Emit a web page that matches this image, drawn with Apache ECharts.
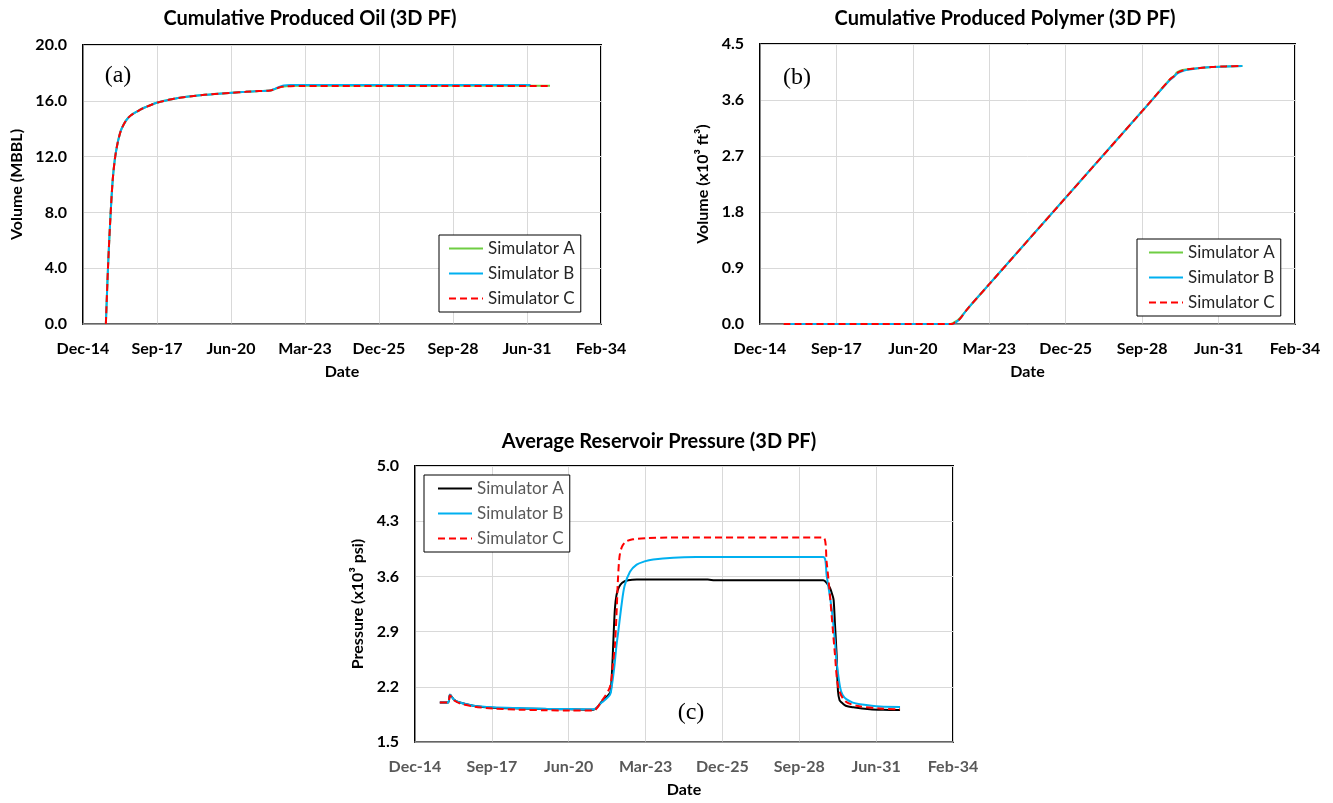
<!DOCTYPE html>
<html>
<head>
<meta charset="utf-8">
<title>3D PF simulator comparison</title>
<script src="https://cdn.jsdelivr.net/npm/echarts@6/dist/echarts.min.js"></script>
<style>
  html, body { margin: 0; padding: 0; background: #fff; }
  #page { position: relative; width: 1333px; height: 803px; overflow: hidden; background: #fff; }
  .chart { position: absolute; }
</style>
</head>
<body>
<div id="page">
  <div id="oil" class="chart" style="left:0;top:0;width:666px;height:400px"></div>
  <div id="poly" class="chart" style="left:666px;top:0;width:667px;height:400px"></div>
  <div id="pres" class="chart" style="left:330px;top:400px;width:670px;height:403px"></div>
</div>
<script>
// ---- shared axis data ----
const seriesNames = ['Simulator A', 'Simulator B', 'Simulator C'];
const xTickLabels = ['Dec-14', 'Sep-17', 'Jun-20', 'Mar-23', 'Dec-25', 'Sep-28', 'Jun-31', 'Feb-34'];
const xTickStart = 42000;   // spreadsheet day number of the first date tick
const xTickStep = 1000;     // days between date ticks

// ---- (a) cumulative produced oil, MBBL ----
const oilDates = ['2015-11-01', '2015-12-01', '2016-01-01', '2016-02-01', '2016-03-01', '2016-04-01',
  '2016-05-01', '2016-06-01', '2016-08-01', '2016-10-01', '2017-01-01', '2017-04-01', '2017-07-01',
  '2017-10-01', '2018-01-01', '2018-07-01', '2019-01-01', '2019-07-01', '2020-01-01', '2020-07-01',
  '2021-01-01', '2021-07-01', '2021-12-01', '2022-02-01', '2022-04-01', '2022-06-01', '2022-09-01',
  '2023-01-01', '2025-01-01', '2028-01-01', '2031-07-20', '2032-04-07'];
const oilA = [0, 4.2, 7.6, 10.3, 11.8, 12.8,
  13.5, 14.0, 14.6, 14.95, 15.25, 15.5, 15.7,
  15.88, 16.0, 16.2, 16.33, 16.43, 16.51, 16.58,
  16.64, 16.7, 16.74, 16.84, 16.96, 17.03, 17.06,
  17.08, 17.08, 17.08, 17.08, 17.08];
const oilB = [0, 4.2, 7.6, 10.3, 11.8, 12.8,
  13.5, 14.0, 14.6, 14.95, 15.25, 15.5, 15.7,
  15.88, 16.0, 16.2, 16.33, 16.43, 16.51, 16.58,
  16.64, 16.7, 16.74, 16.86, 17.0, 17.09, 17.13,
  17.14, 17.14, 17.14, 17.14, null];
const oilC = [0, 4.2, 7.6, 10.3, 11.8, 12.8,
  13.5, 14.0, 14.6, 14.95, 15.25, 15.5, 15.7,
  15.88, 16.0, 16.2, 16.33, 16.43, 16.51, 16.58,
  16.64, 16.7, 16.74, 16.83, 16.95, 17.02, 17.05,
  17.06, 17.06, 17.06, 17.06, 17.06];

// ---- (b) cumulative produced polymer, x10^3 ft^3 ----
const polyDates = ['2015-11-01', '2021-10-10', '2021-11-15', '2021-12-15', '2022-01-15', '2022-03-01',
  '2022-06-01', '2023-03-15', '2025-12-09', '2028-09-04', '2029-09-01', '2029-11-01', '2029-12-01',
  '2030-01-15', '2030-04-01', '2030-09-01', '2031-03-01', '2031-09-01', '2032-04-07'];
const polyA = [0, 0, 0.01, 0.03, 0.05, 0.10, 0.24, 0.64, 2.03, 3.42, 3.93, 3.99, 4.04, 4.07, 4.09, 4.11, 4.13, 4.14, 4.148];
const polyB = [0, 0, 0.00, 0.01, 0.04, 0.09, 0.24, 0.64, 2.03, 3.42, 3.92, 3.98, 4.02, 4.05, 4.08, 4.11, 4.13, 4.14, 4.148];
const polyC = [0, 0, 0.00, 0.02, 0.04, 0.09, 0.24, 0.64, 2.03, 3.42, 3.93, 3.99, 4.03, 4.06, 4.09, 4.11, 4.13, 4.14, 4.148];

// ---- (c) average reservoir pressure, x10^3 psi ----
const presDatesA = ['2015-11-15', '2016-03-01', '2016-03-26', '2016-05-15', '2016-08-01', '2017-01-24',
  '2017-10-07', '2018-09-23', '2019-09-01', '2020-07-05', '2021-05-04', '2021-08-21', '2021-12-10',
  '2021-12-25', '2022-01-10', '2022-01-25', '2022-02-10', '2022-03-01', '2022-04-01', '2022-05-15',
  '2022-08-01', '2022-11-20', '2025-06-01', '2025-09-01', '2029-07-13', '2029-09-01', '2029-10-10',
  '2029-11-10', '2029-11-25', '2029-12-12', '2030-01-03', '2030-01-20', '2030-02-10', '2030-03-10',
  '2030-05-01', '2030-08-08', '2031-03-13', '2031-09-01', '2032-04-07'];
const presA = [2.00, 2.00, 2.10, 2.04, 2.00, 1.96,
  1.935, 1.925, 1.918, 1.914, 1.91, 2.01, 2.13,
  2.25, 2.55, 2.90, 3.20, 3.36, 3.46, 3.52,
  3.55, 3.56, 3.56, 3.55, 3.55, 3.51, 3.45,
  3.36, 3.30, 3.00, 2.60, 2.15, 2.03, 2.00,
  1.96, 1.94, 1.915, 1.908, 1.905];

const presDatesB = ['2015-11-15', '2016-03-01', '2016-03-26', '2016-05-15', '2016-08-01', '2017-01-24',
  '2017-10-07', '2018-09-23', '2019-09-01', '2020-07-05', '2021-05-04', '2021-08-21', '2021-12-07',
  '2021-12-29', '2022-02-01', '2022-03-01', '2022-03-25', '2022-05-08', '2022-06-15', '2022-08-24',
  '2022-11-19', '2023-03-01', '2023-06-23', '2024-03-10', '2025-01-01', '2029-07-13', '2029-08-26',
  '2029-10-30', '2029-12-10', '2030-01-03', '2030-02-16', '2030-03-20', '2030-05-13', '2030-08-01',
  '2030-11-03', '2031-07-21', '2032-04-07'];
const presB = [2.00, 2.00, 2.10, 2.04, 2.00, 1.96,
  1.94, 1.93, 1.922, 1.918, 1.915, 2.00, 2.10,
  2.20, 2.45, 2.72, 2.90, 3.25, 3.48, 3.66,
  3.75, 3.79, 3.815, 3.838, 3.845, 3.845, 3.61,
  3.19, 2.80, 2.52, 2.20, 2.10, 2.04, 2.00,
  1.98, 1.95, 1.945];

const presDatesC = ['2015-11-15', '2016-03-01', '2016-03-26', '2016-05-15', '2016-08-01', '2017-01-24',
  '2017-10-07', '2018-09-23', '2019-09-01', '2020-07-05', '2021-05-04', '2021-08-21', '2021-12-07',
  '2022-01-10', '2022-02-10', '2022-03-01', '2022-03-20', '2022-04-10', '2022-05-10', '2022-07-01',
  '2022-10-01', '2023-03-29', '2024-01-01', '2029-07-13', '2029-08-26', '2029-10-08', '2029-12-12',
  '2030-01-25', '2030-04-22', '2030-09-21', '2031-07-21', '2032-04-07'];
const presC = [2.00, 2.00, 2.09, 2.03, 1.99, 1.95,
  1.925, 1.91, 1.903, 1.90, 1.90, 2.02, 2.20,
  2.45, 2.75, 3.10, 3.55, 3.85, 3.97, 4.04,
  4.07, 4.085, 4.093, 4.093, 3.78, 3.36, 2.61,
  2.19, 2.02, 1.96, 1.925, 1.915];

// ---- helpers ----
const EPOCH = Date.UTC(1899, 11, 30);
function daySerial(s) {
  const p = s.split('-').map(Number);
  return Math.round((Date.UTC(p[0], p[1] - 1, p[2]) - EPOCH) / 86400000);
}
function pairs(dates, values) {
  return dates.map((d, i) => [daySerial(d), values[i]]);
}

const FONT = 'Lato';
const GRID_LINE = '#d9d9d9';
const AXIS_LINE = '#868686';

function dateAxis(labelColor) {
  return {
    type: 'value',
    min: xTickStart,
    max: xTickStart + xTickStep * (xTickLabels.length - 1),
    interval: xTickStep,
    name: 'Date',
    nameLocation: 'middle',
    nameGap: 40,
    nameTextStyle: { fontFamily: FONT, fontWeight: 'bold', fontSize: 16, color: '#000' },
    axisLine: { show: true, lineStyle: { color: AXIS_LINE, width: 1.5 } },
    axisTick: { show: false },
    axisLabel: {
      margin: 17, fontFamily: FONT, fontWeight: 'bold', fontSize: 16, color: labelColor,
      formatter: v => xTickLabels[Math.round((v - xTickStart) / xTickStep)]
    },
    splitLine: { show: true, lineStyle: { color: GRID_LINE, width: 1 } }
  };
}

function valueAxis(name, min, max, interval, nameGap) {
  return {
    type: 'value',
    min: min, max: max, interval: interval,
    name: name,
    nameLocation: 'middle',
    nameGap: nameGap,
    nameTextStyle: { fontFamily: FONT, fontWeight: 'bold', fontSize: 16, color: '#000' },
    axisLine: { show: true, lineStyle: { color: AXIS_LINE, width: 1 } },
    axisTick: { show: false },
    axisLabel: {
      margin: 16, fontFamily: FONT, fontWeight: 'bold', fontSize: 16, color: '#000',
      formatter: v => v.toFixed(1)
    },
    splitLine: { show: true, lineStyle: { color: GRID_LINE, width: 1 } }
  };
}

function legendBox(left, top, textColor, padLeft) {
  return {
    orient: 'vertical',
    left: left, top: top,
    itemWidth: 34, itemHeight: 14, itemGap: 8,
    padding: [5, 6, 5, padLeft],
    borderColor: '#000', borderWidth: 1,
    backgroundColor: '#fff',
    selectedMode: false,
    itemStyle: { opacity: 0 },   // line-only keys, no marker dot
    textStyle: { fontFamily: FONT, fontSize: 17, color: textColor },
    data: seriesNames
  };
}

function line(name, data, color, dashed) {
  return {
    name: name,
    type: 'line',
    data: data,
    symbol: 'none',
    smooth: 0.3,
    lineStyle: { color: color, width: 2, type: dashed ? [7, 4] : 'solid' },
    itemStyle: { color: color },
    emphasis: { disabled: true },
    animation: false
  };
}

function titleText(x, y, text) {
  return {
    type: 'text', x: x, y: y,
    style: { text: text, fill: '#000', font: 'bold 20px ' + FONT, align: 'center', verticalAlign: 'middle' }
  };
}
function panelTag(x, y, text) {
  return {
    type: 'text', x: x, y: y,
    style: { text: text, fill: '#000', font: '24px "Liberation Serif"', align: 'center', verticalAlign: 'middle' }
  };
}

const GREEN = '#6fcd43';
const BLUE = '#00b0f0';
const RED = '#ff0000';

const gridBase = { show: true, borderColor: '#000', borderWidth: 2, backgroundColor: '#fff' };

// ---- (a) ----
const oilChart = echarts.init(document.getElementById('oil'));
oilChart.setOption({
  animation: false,
  grid: Object.assign({ left: 83, top: 45, width: 518, height: 279 }, gridBase),
  xAxis: dateAxis('#000'),
  yAxis: valueAxis('Volume (MBBL)', 0, 20, 4, 57),
  legend: legendBox(439, 235, '#262626', 9),
  graphic: [titleText(310, 19, 'Cumulative Produced Oil (3D PF)'), panelTag(118, 76, '(a)')],
  series: [
    line('Simulator A', pairs(oilDates, oilA), GREEN, false),
    line('Simulator B', pairs(oilDates, oilB), BLUE, false),
    line('Simulator C', pairs(oilDates, oilC), RED, true)
  ]
});

// ---- (b) ----
const polyChart = echarts.init(document.getElementById('poly'));
polyChart.setOption({
  animation: false,
  grid: Object.assign({ left: 94, top: 44, width: 535, height: 280 }, gridBase),
  xAxis: dateAxis('#000'),
  yAxis: valueAxis('Volume (x10³ ft³)', 0, 4.5, 0.9, 49),
  legend: legendBox(471, 239, '#262626', 11),
  graphic: [titleText(339, 19, 'Cumulative Produced Polymer (3D PF)'), panelTag(131, 78, '(b)')],
  series: [
    line('Simulator A', pairs(polyDates, polyA), GREEN, false),
    line('Simulator B', pairs(polyDates, polyB), BLUE, false),
    line('Simulator C', pairs(polyDates, polyC), RED, true)
  ]
});

// ---- (c) ----
const presChart = echarts.init(document.getElementById('pres'));
presChart.setOption({
  animation: false,
  grid: Object.assign({ left: 85, top: 66, width: 538, height: 279 }, gridBase),
  xAxis: dateAxis('#595959'),
  yAxis: valueAxis('Pressure (x10³ psi)', 1.5, 5.0, 0.7, 46),
  legend: legendBox(94, 75, '#595959', 13),
  graphic: [titleText(329, 42, 'Average Reservoir Pressure (3D PF)'), panelTag(361, 313, '(c)')],
  series: [
    line('Simulator A', pairs(presDatesA, presA), '#000000', false),
    line('Simulator B', pairs(presDatesB, presB), BLUE, false),
    line('Simulator C', pairs(presDatesC, presC), RED, true)
  ]
});
</script>
</body>
</html>
